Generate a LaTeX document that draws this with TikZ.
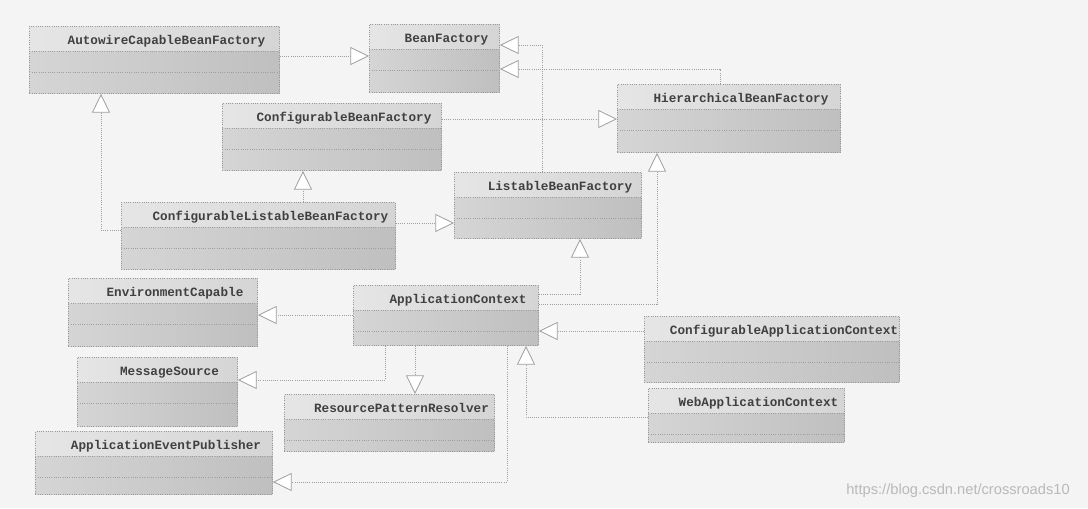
\documentclass[tikz,border=0pt]{standalone}
\usepackage{fontspec}
\setmainfont{Liberation Serif}
\newfontfamily\clsfont{Liberation Mono}
\newfontfamily\wmfont{Liberation Sans}
\usepackage{tikz}
\usetikzlibrary{arrows.meta,calc}

\begin{document}
\begin{tikzpicture}[
    x=0.75pt, y=-0.75pt,
    cls/.style 2 args={draw=gray!80, densely dotted, line width=0.7pt, inner sep=0pt,
        anchor=north west, minimum width=#1*0.75pt, minimum height=#2*0.75pt,
        path picture={
          \shade[draw=none, left color=gray!20, right color=gray!33]
            (path picture bounding box.north west) rectangle
            ([yshift=-18.75pt]path picture bounding box.north east);
          \shade[draw=none, left color=gray!33, right color=gray!50]
            ([yshift=-18.75pt]path picture bounding box.north west) rectangle
            (path picture bounding box.south east);
          \draw[gray!75, densely dotted, line width=0.7pt]
            ([yshift=-18.75pt]path picture bounding box.north west) --
            ([yshift=-18.75pt]path picture bounding box.north east)
            ([yshift=-34.5pt]path picture bounding box.north west) --
            ([yshift=-34.5pt]path picture bounding box.north east);
        }},
    cname/.style={anchor=base, font=\clsfont\bfseries\fontsize{9.5}{11}\selectfont,
                  text=black!75, inner sep=0pt},
    gen/.style={draw=gray!75, densely dotted, line width=0.6pt,
        -{Triangle[length=14pt, width=13.5pt, fill=white, line width=0.6pt]}}
]

\fill[gray!9] (0,0) rectangle (1088,508);
\useasboundingbox (0,0) rectangle (1088,508);

% bean factories
\node[cls={250}{67}] (acbf) at (29,26) {};
\node[cname] (acbf-t) at ($(acbf.north)+(12,18)$) {AutowireCapableBeanFactory};
\node[cls={130}{68}] (bf) at (369,24) {};
\node[cname] (bf-t) at ($(bf.north)+(12,18)$) {BeanFactory};
\node[cls={223}{68}] (hbf) at (617,84) {};
\node[cname] (hbf-t) at ($(hbf.north)+(12,18)$) {HierarchicalBeanFactory};
\node[cls={219}{67}] (cbf) at (222,103) {};
\node[cname] (cbf-t) at ($(cbf.north)+(12,18)$) {ConfigurableBeanFactory};
\node[cls={187}{66}] (lbf) at (454,172) {};
\node[cname] (lbf-t) at ($(lbf.north)+(12,18)$) {ListableBeanFactory};
\node[cls={274}{67}] (clbf) at (121,202) {};
\node[cname] (clbf-t) at ($(clbf.north)+(12,18)$) {ConfigurableListableBeanFactory};

% application context and friends
\node[cls={189}{68}] (env) at (68,278) {};
\node[cname] (env-t) at ($(env.north)+(12,18)$) {EnvironmentCapable};
\node[cls={185}{60}] (ac) at (353,285) {};
\node[cname] (ac-t) at ($(ac.north)+(12,18)$) {ApplicationContext};
\node[cls={255}{66}] (cac) at (644,316) {};
\node[cname] (cac-t) at ($(cac.north)+(12,18)$) {ConfigurableApplicationContext};
\node[cls={160}{69}] (ms) at (77,357) {};
\node[cname] (ms-t) at ($(ms.north)+(12,18)$) {MessageSource};
\node[cls={210}{57}] (rpr) at (284,394) {};
\node[cname] (rpr-t) at ($(rpr.north)+(12,18)$) {ResourcePatternResolver};
\node[cls={196}{54}] (wac) at (648,388) {};
\node[cname] (wac-t) at ($(wac.north)+(12,18)$) {WebApplicationContext};
\node[cls={237}{63}] (aep) at (35,431) {};
\node[cname] (aep-t) at ($(aep.north)+(12,18)$) {ApplicationEventPublisher};

% generalizations
\draw[gen] ($(acbf.north east)+(0,30)$) -- ($(bf.north west)+(0,32)$);
\draw[gen] ($(lbf.north west)+(88,0)$) |- ($(bf.north east)+(0,21)$);
\draw[gen] ($(hbf.north west)+(103,0)$) |- ($(bf.north east)+(0,45)$);
\draw[gen] ($(cbf.north east)+(0,16)$) -- ($(hbf.north west)+(0,35)$);
\draw[gen] ($(clbf.north west)+(0,28)$) -| ($(acbf.south west)+(72,0)$);
\draw[gen] ($(clbf.north west)+(182,0)$) -- ($(cbf.south west)+(81,0)$);
\draw[gen] ($(clbf.north east)+(0,21)$) -- ($(lbf.north west)+(0,51)$);
\draw[gen] ($(ac.north east)+(0,9)$) -| ($(lbf.south west)+(126,0)$);
\draw[gen] ($(ac.north east)+(0,19)$) -| ($(hbf.south west)+(40,0)$);
\draw[gen] ($(ac.north west)+(0,30)$) -- ($(env.north east)+(0,37)$);
\draw[gen] ($(ac.south west)+(32,0)$) |- ($(ms.north east)+(0,23)$);
\draw[gen] ($(ac.south west)+(62,0)$) -- ($(rpr.north west)+(131,0)$);
\draw[gen] ($(ac.south west)+(154,0)$) |- ($(aep.north east)+(0,51)$);
\draw[gen] ($(cac.north west)+(0,15)$) -- ($(ac.north east)+(0,46)$);
\draw[gen] ($(wac.north west)+(0,29)$) -| ($(ac.south west)+(173,0)$);

\node[font=\wmfont\fontsize{11}{13}\selectfont, text=gray!55] (wm) at (958,491)
  {https://blog.csdn.net/crossroads10};

\end{tikzpicture}
\end{document}
